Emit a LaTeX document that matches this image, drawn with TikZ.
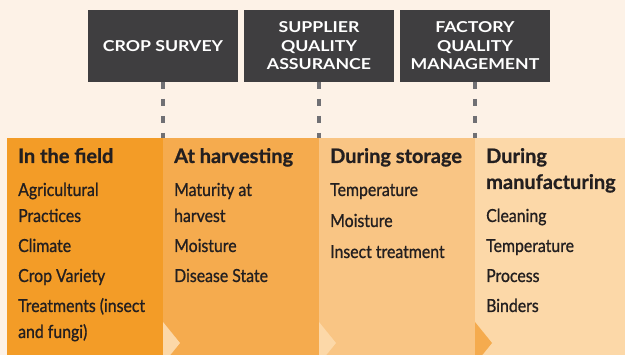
\documentclass[tikz,border=0pt]{standalone}
\usepackage{fontspec}
\setmainfont{Lato}
\usetikzlibrary{calc}
\definecolor{cream}{RGB}{253,242,231}
\definecolor{orgA}{RGB}{243,156,39}
\definecolor{orgB}{RGB}{245,171,78}
\definecolor{orgC}{RGB}{249,197,132}
\definecolor{orgD}{RGB}{252,216,168}
\definecolor{boxgray}{RGB}{63,62,64}
\definecolor{dashgray}{RGB}{112,112,116}
\definecolor{inkblack}{RGB}{35,31,32}
\newfontfamily\itemfont[FakeStretch=0.88, FakeBold=0.9]{Lato}
\newfontfamily\headfont[FakeStretch=1.0, FakeBold=0.8]{Lato}
\newfontfamily\boxfont[FakeStretch=1.18]{Lato}
\tikzstyle{darkbox} = [fill=boxgray, text=white, minimum width=150,
    minimum height=72, inner sep=0, outer sep=0, align=center,
    font=\boxfont\bfseries\fontsize{15}{18.5}\selectfont]
\tikzstyle{column} = [anchor=north west, inner sep=0, outer sep=0,
    minimum height=217]
\tikzstyle{head} = [anchor=base west, inner sep=0, align=left,
    text=inkblack, font=\headfont\bfseries\fontsize{20}{26}\selectfont]
\tikzstyle{items} = [anchor=base west, inner sep=0, align=left,
    text=inkblack, font=\itemfont\fontsize{18}{26}\selectfont]
\tikzstyle{link} = [draw=dashgray, line width=3.3pt,
    dash pattern=on 7pt off 10pt]

\begin{document}
\begin{tikzpicture}[x=1pt, y=-1pt]

\useasboundingbox[fill=cream] (0,0) rectangle (625,355);
\clip (0,0) rectangle (625,355);

%%% stages
\node[column, fill=orgA, minimum width=156] (c1) at (7,138) {};
\node[column, fill=orgB, minimum width=156] (c2) at (163,138) {};
\node[column, fill=orgC, minimum width=156] (c3) at (319,138) {};
\node[column, fill=orgD, minimum width=150] (c4) at (475,138) {};

%%% notches
\fill[orgD] (c2.south west) ++(0,-33) -- ++(17,21) -- ++(-17,21) -- cycle;
\fill[orgD] (c3.south west) ++(0,-33) -- ++(17,21) -- ++(-17,21) -- cycle;
\fill[orgB] (c4.south west) ++(0,-33) -- ++(17,21) -- ++(-17,21) -- cycle;

%%% checks
\node[darkbox] (b1) at (163,46) {CROP SURVEY};
\node[darkbox] (b2) at (319,46) {SUPPLIER\\QUALITY\\ASSURANCE};
\node[darkbox] (b3) at (475,46) {FACTORY\\QUALITY\\MANAGEMENT};

\draw[link] (b1.south) -- (c2.north west);
\draw[link] (b2.south) -- (c3.north west);
\draw[link] (b3.south) -- (c4.north west);

%%% headings (anchored on the last line)
\node[head] (h1) at (18,163) {In the field};
\node[head] (h2) at (174,163) {At harvesting};
\node[head] (h3) at (330,163) {During storage};
\node[head] (h4) at (486,189) {During\\manufacturing};

%%% factors (anchored on the last line)
\node[items] (f1) at (18,338) {Agricultural\\Practices\\[4pt]Climate\\[4pt]Crop Variety\\[4pt]Treatments (insect\\and fungi)};
\node[items] (f2) at (174,282) {Maturity at\\harvest\\[4pt]Moisture\\[4pt]Disease State};
\node[items] (f3) at (330,258) {Temperature\\[5pt]Moisture\\[5pt]Insect treatment};
\node[items] (f4) at (486,312) {Cleaning\\[4pt]Temperature\\[4pt]Process\\[4pt]Binders};

\end{tikzpicture}
\end{document}
